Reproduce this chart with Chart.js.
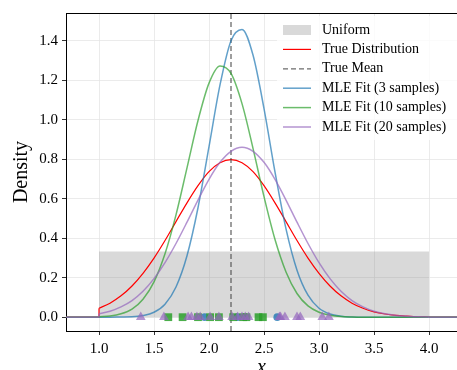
<!DOCTYPE html>
<html>
<head>
<meta charset="utf-8">
<script src="https://cdn.jsdelivr.net/npm/chart.js@4.4.1/dist/chart.umd.min.js"></script>
<style>
  html, body { margin: 0; padding: 0; background: #fff; }
</style>
</head>
<body>
<canvas id="mleChart" width="457" height="370"></canvas>
<script>
// ---- data ----
const supportX = [1.0, 1.1, 1.2, 1.3, 1.4, 1.5, 1.6, 1.7, 1.8, 1.9, 2.0, 2.1, 2.2, 2.3, 2.4, 2.5,
                  2.6, 2.7, 2.8, 2.9, 3.0, 3.1, 3.2, 3.3, 3.4, 3.5, 3.6, 3.7, 3.8, 3.9, 4.0];
const outsideLeft = 0.7;
const outsideRight = 4.3;

const trueDensity = [0.045, 0.071, 0.108, 0.158, 0.222, 0.299, 0.388, 0.484, 0.579, 0.666, 0.737,
                     0.782, 0.798, 0.782, 0.737, 0.666, 0.579, 0.484, 0.388, 0.299, 0.222, 0.158,
                     0.108, 0.071, 0.045, 0.027, 0.016, 0.009, 0.005, 0.002, 0.001];
const fit3Density = [0.000, 0.000, 0.001, 0.002, 0.008, 0.025, 0.066, 0.153, 0.311, 0.554, 0.863,
                     1.176, 1.400, 1.457, 1.327, 1.056, 0.735, 0.447, 0.238, 0.111, 0.045, 0.016,
                     0.005, 0.001, 0.000, 0.000, 0.000, 0.000, 0.000, 0.000, 0.000];
const fit10Density = [0.002, 0.006, 0.017, 0.041, 0.091, 0.179, 0.321, 0.518, 0.756, 0.996, 1.185,
                      1.272, 1.234, 1.081, 0.855, 0.610, 0.393, 0.229, 0.120, 0.057, 0.025, 0.010,
                      0.003, 0.001, 0.000, 0.000, 0.000, 0.000, 0.000, 0.000, 0.000];
const fit20Density = [0.017, 0.030, 0.052, 0.084, 0.131, 0.195, 0.276, 0.373, 0.481, 0.593, 0.698,
                      0.784, 0.840, 0.860, 0.840, 0.784, 0.698, 0.593, 0.481, 0.373, 0.276, 0.195,
                      0.131, 0.084, 0.052, 0.030, 0.017, 0.009, 0.005, 0.002, 0.001];

const samples3 = [1.96, 2.26, 2.62];
const samples10 = [1.63, 1.76, 1.90, 2.01, 2.09, 2.22, 2.31, 2.34, 2.45, 2.49];
const samples20 = [1.38, 1.59, 1.81, 1.84, 1.89, 1.92, 2.01, 2.09, 2.21, 2.26,
                   2.30, 2.33, 2.36, 2.64, 2.65, 2.69, 2.80, 2.83, 3.03, 3.09];

const uniformRange = [1.0, 4.0];
const uniformDensity = 0.333;
const trueMean = 2.2;

const xLimits = [0.7, 4.2545];
const yLimits = [-0.07, 1.54];
const xTicks = [1.0, 1.5, 2.0, 2.5, 3.0, 3.5, 4.0];
const yTicks = [0.0, 0.2, 0.4, 0.6, 0.8, 1.0, 1.2, 1.4];

const serif = "'Liberation Serif', 'Times New Roman', serif";

function curvePoints(values) {
    return supportX.map((x, i) => ({ x: x, y: values[i] }));
}

// zero density outside [1, 4], with the jump at each end of the support
function tailPoints(values) {
    const first = supportX[0], last = supportX[supportX.length - 1];
    return [
        { x: outsideLeft, y: 0 }, { x: first, y: 0 }, { x: first, y: values[0] },
        { x: NaN, y: null },
        { x: last, y: values[values.length - 1] }, { x: last, y: 0 }, { x: outsideRight, y: 0 }
    ];
}

function rugPoints(samples) {
    return samples.map(s => ({ x: s, y: 0 }));
}

function curve(label, values, color, width, order) {
    return {
        label: label,
        data: curvePoints(values),
        showLine: true,
        borderColor: color,
        borderWidth: width,
        pointRadius: 0,
        cubicInterpolationMode: 'monotone',
        order: order
    };
}

function tail(values, color, width, order) {
    return {
        data: tailPoints(values),
        showLine: true,
        spanGaps: false,
        borderColor: color,
        borderWidth: width,
        pointRadius: 0,
        tension: 0,
        order: order
    };
}

function rug(samples, style, color, radius, order) {
    return {
        data: rugPoints(samples),
        showLine: false,
        pointStyle: style,
        pointRadius: radius,
        backgroundColor: color,
        borderWidth: 0,
        order: order
    };
}

const red = '#ff0000';
const blue = 'rgba(31,119,180,0.7)';
const green = 'rgba(44,160,44,0.7)';
const purple = 'rgba(148,103,189,0.7)';

const datasets = [
    {
        label: 'Uniform',
        legendKind: 'patch',
        data: uniformRange.map(x => ({ x: x, y: uniformDensity })),
        showLine: true,
        borderWidth: 0,
        borderColor: 'rgba(0,0,0,0)',
        backgroundColor: 'rgba(128,128,128,0.3)',
        fill: 'origin',
        pointRadius: 0,
        order: 20
    },
    curve('True Distribution', trueDensity, red, 1.2, 18),
    {
        label: 'True Mean',
        data: yLimits.map(y => ({ x: trueMean, y: y })),
        showLine: true,
        borderColor: 'rgba(70,70,70,0.8)',
        borderWidth: 1.3,
        borderDash: [5, 3],
        pointRadius: 0,
        order: 16
    },
    curve('MLE Fit (3 samples)', fit3Density, blue, 1.5, 14),
    curve('MLE Fit (10 samples)', fit10Density, green, 1.5, 12),
    curve('MLE Fit (20 samples)', fit20Density, purple, 1.5, 10),
    tail(trueDensity, red, 1.2, 17),
    tail(fit3Density, blue, 1.5, 13),
    tail(fit10Density, green, 1.5, 11),
    tail(fit20Density, purple, 1.5, 9),
    rug(samples3, 'circle', 'rgba(31,119,180,0.8)', 3.8, 3),
    rug(samples10, 'rect', 'rgba(44,160,44,0.85)', 5.5, 2),
    rug(samples20, 'triangle', 'rgba(148,103,189,0.7)', 5.6, 1)
];

// legend drawn inside the plot, upper right
const insideLegend = {
    id: 'insideLegend',
    afterDatasetsDraw(chart) {
        const { ctx, chartArea: a } = chart;
        const items = chart.data.datasets.filter(d => d.label);
        const boxLeft = a.right - 180;
        const rowTop = a.top + 17;
        const rowGap = 19.4;
        ctx.save();
        ctx.fillStyle = 'rgba(255,255,255,0.8)';
        ctx.fillRect(boxLeft, a.top + 3, 180, 124);
        items.forEach((d, i) => {
            const y = rowTop + i * rowGap;
            const x0 = boxLeft + 6;
            if (d.legendKind === 'patch') {
                ctx.fillStyle = d.backgroundColor;
                ctx.fillRect(x0, y - 5, 28, 10);
            } else {
                ctx.strokeStyle = d.borderColor;
                ctx.lineWidth = d.borderWidth;
                ctx.setLineDash(d.borderDash || []);
                ctx.beginPath();
                ctx.moveTo(x0, y);
                ctx.lineTo(x0 + 28, y);
                ctx.stroke();
                ctx.setLineDash([]);
            }
            ctx.fillStyle = '#000';
            ctx.font = '14px ' + serif;
            ctx.textBaseline = 'middle';
            ctx.textAlign = 'left';
            ctx.fillText(d.label, x0 + 39, y);
        });
        ctx.restore();
    },
    afterDraw(chart) {
        // top spine
        const { ctx, chartArea: a } = chart;
        ctx.save();
        ctx.strokeStyle = '#000';
        ctx.lineWidth = 1;
        ctx.beginPath();
        ctx.moveTo(a.left, a.top + 0.5);
        ctx.lineTo(a.right, a.top + 0.5);
        ctx.stroke();
        ctx.restore();
    }
};

new Chart(document.getElementById('mleChart'), {
    type: 'scatter',
    data: { datasets: datasets },
    options: {
        responsive: false,
        animation: false,
        devicePixelRatio: 1,
        layout: { autoPadding: false, padding: { left: 0, right: 0, top: 11, bottom: 0 } },
        plugins: {
            legend: { display: false },
            tooltip: { enabled: false }
        },
        scales: {
            x: {
                type: 'linear',
                min: xLimits[0],
                max: xLimits[1],
                afterBuildTicks: s => { s.ticks = xTicks.map(v => ({ value: v })); },
                afterFit: s => { s.height = 39; },
                grid: { color: '#e6e6e6', lineWidth: 0.8, tickColor: '#000', tickLength: 4 },
                border: { color: '#000', width: 1 },
                ticks: {
                    color: '#000',
                    font: { family: serif, size: 15 },
                    padding: 5,
                    maxRotation: 0,
                    autoSkip: false,
                    callback: v => v.toFixed(1)
                },
                title: {
                    display: true,
                    text: 'x',
                    color: '#000',
                    font: { family: serif, size: 20, style: 'italic' },
                    padding: { top: 0, bottom: -10 }
                }
            },
            y: {
                type: 'linear',
                min: yLimits[0],
                max: yLimits[1],
                afterBuildTicks: s => { s.ticks = yTicks.map(v => ({ value: v })); },
                afterFit: s => { s.width = 66; },
                grid: { color: '#e6e6e6', lineWidth: 0.8, tickColor: '#000', tickLength: 4 },
                border: { color: '#000', width: 1 },
                ticks: {
                    color: '#000',
                    font: { family: serif, size: 15 },
                    padding: 4,
                    autoSkip: false,
                    callback: v => v.toFixed(1)
                },
                title: {
                    display: true,
                    text: 'Density',
                    color: '#000',
                    font: { family: serif, size: 20 },
                    padding: { top: 10, bottom: 0 }
                }
            }
        }
    },
    plugins: [insideLegend]
});
</script>
</body>
</html>
